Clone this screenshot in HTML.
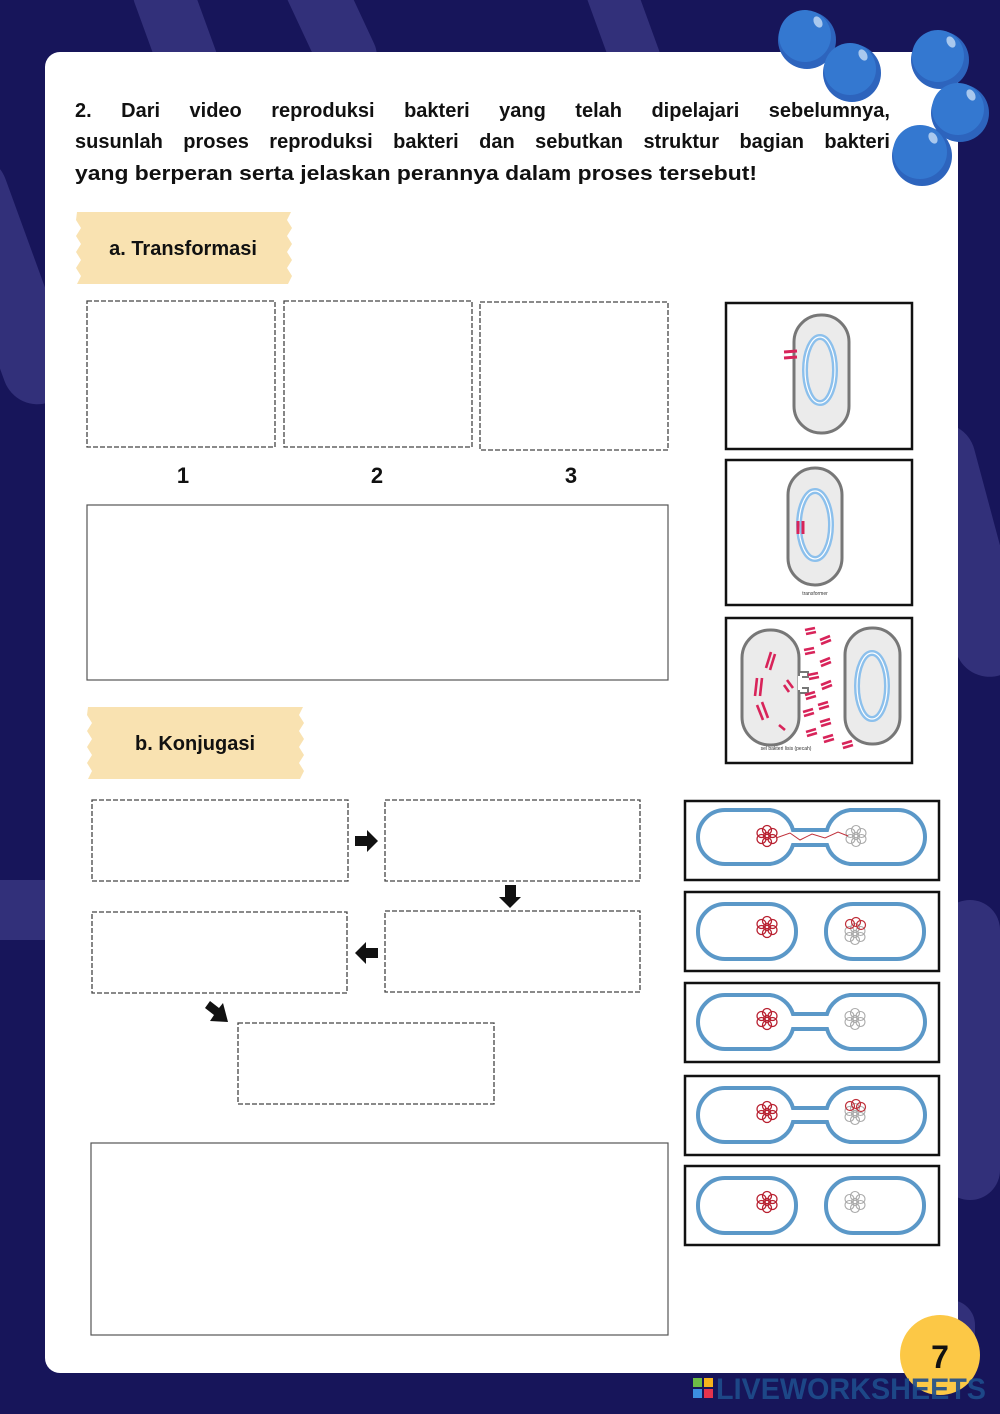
<!DOCTYPE html>
<html><head><meta charset="utf-8"><style>
html,body{margin:0;padding:0;background:#17155a;}
svg{display:block;}
text{font-family:"Liberation Sans",sans-serif;}
.q{position:absolute;left:75px;width:815px;font:bold 20px "Liberation Sans",sans-serif;color:#111;display:flex;justify-content:space-between;white-space:nowrap;}
</style></head><body>
<div style="position:relative;width:1000px;height:1414px;">
<svg width="1000" height="1414" viewBox="0 0 1000 1414" xmlns="http://www.w3.org/2000/svg" style="position:absolute;left:0;top:0">
<defs>
<g id="flower">
 <circle cx="0" cy="-6" r="4.5" fill="none"/><circle cx="5.5" cy="-3" r="4.5" fill="none"/><circle cx="5.5" cy="3" r="4.5" fill="none"/>
 <circle cx="0" cy="6" r="4.5" fill="none"/><circle cx="-5.5" cy="3" r="4.5" fill="none"/><circle cx="-5.5" cy="-3" r="4.5" fill="none"/><circle cx="0" cy="0" r="3.5" fill="none"/>
</g>
</defs>
<rect width="1000" height="1414" fill="#17155a"/>
<g fill="#3a3882" opacity="0.8">
 <rect x="150" y="-40" width="60" height="160" rx="30" transform="rotate(-20 180 40)"/>
 <rect x="300" y="-60" width="60" height="150" rx="30" transform="rotate(-25 330 20)"/>
 <rect x="600" y="-40" width="50" height="140" rx="25" transform="rotate(-20 625 30)"/>
 <rect x="-30" y="150" width="70" height="260" rx="35" transform="rotate(-20 5 280)"/>
 <rect x="-40" y="880" width="120" height="60" rx="30"/>
 <rect x="930" y="420" width="70" height="260" rx="35" transform="rotate(-15 965 550)"/>
 <rect x="940" y="900" width="60" height="300" rx="30"/>
 <rect x="925" y="1300" width="50" height="90" rx="25"/>
</g>
<rect x="45" y="52" width="913" height="1321" rx="15" fill="#ffffff"/>
<g>
 <circle cx="807" cy="40" r="29" fill="#2d64bd"/><circle cx="805" cy="36" r="26" fill="#3478d0"/><ellipse cx="818" cy="22" rx="4" ry="6" fill="#a9c8ee" transform="rotate(-30 818 22)"/>
 <circle cx="852" cy="73" r="29" fill="#2d64bd"/><circle cx="850" cy="69" r="26" fill="#3478d0"/><ellipse cx="863" cy="55" rx="4" ry="6" fill="#a9c8ee" transform="rotate(-30 863 55)"/>
 <circle cx="940" cy="60" r="29" fill="#2d64bd"/><circle cx="938" cy="56" r="26" fill="#3478d0"/><ellipse cx="951" cy="42" rx="4" ry="6" fill="#a9c8ee" transform="rotate(-30 951 42)"/>
 <circle cx="960" cy="113" r="29" fill="#2d64bd"/><circle cx="958" cy="109" r="26" fill="#3478d0"/><ellipse cx="971" cy="95" rx="4" ry="6" fill="#a9c8ee" transform="rotate(-30 971 95)"/>
 <circle cx="922" cy="156" r="30" fill="#2d64bd"/><circle cx="920" cy="152" r="27" fill="#3478d0"/><ellipse cx="933" cy="138" rx="4" ry="6" fill="#a9c8ee" transform="rotate(-30 933 138)"/>
</g>
<text x="75" y="180" font-size="20" font-weight="bold" fill="#111" textLength="682" lengthAdjust="spacingAndGlyphs">yang berperan serta jelaskan perannya dalam proses tersebut!</text>
<polygon fill="#f9e2b1" points="77,212 291,212 287,220 292,228 287,236 292,244 287,252 292,260 287,268 292,276 288,284 77,284 81,276 76,268 81,260 76,252 81,244 76,236 81,228 76,220"/>
<text x="183" y="255" font-size="20" font-weight="bold" text-anchor="middle" fill="#111">a. Transformasi</text>
<polygon fill="#f9e2b1" points="88,707 303,707 299,715 304,723 299,731 304,739 299,747 304,755 299,763 304,771 300,779 88,779 92,771 87,763 92,755 87,747 92,739 87,731 92,723 87,715"/>
<text x="195" y="750" font-size="20" font-weight="bold" text-anchor="middle" fill="#111">b. Konjugasi</text>
<g fill="none" stroke="#444" stroke-width="1.3" stroke-dasharray="5 2">
 <rect x="87" y="301" width="188" height="146"/>
 <rect x="284" y="301" width="188" height="146"/>
 <rect x="480" y="302" width="188" height="148"/>
</g>
<g font-size="22" font-weight="bold" text-anchor="middle" fill="#111">
 <text x="183" y="483">1</text><text x="377" y="483">2</text><text x="571" y="483">3</text>
</g>
<rect x="87" y="505" width="581" height="175" fill="none" stroke="#555" stroke-width="1.2"/>
<g stroke="#111" stroke-width="2.5" fill="#fff">
 <rect x="726" y="303" width="186" height="146"/>
 <rect x="726" y="460" width="186" height="145"/>
 <rect x="726" y="618" width="186" height="145"/>
</g>
<rect x="794" y="315" width="55" height="118" rx="27" fill="#ebebeb" stroke="#777" stroke-width="3"/>
<ellipse cx="820" cy="370" rx="15" ry="33" fill="none" stroke="#8cc0ec" stroke-width="6"/>
<ellipse cx="820" cy="370" rx="15" ry="33" fill="none" stroke="#fff" stroke-width="1.2"/>
<g stroke="#d8245a" stroke-width="3"><line x1="784" y1="352" x2="797" y2="351"/><line x1="784" y1="358" x2="797" y2="357"/></g>
<rect x="788" y="468" width="54" height="117" rx="27" fill="#ebebeb" stroke="#777" stroke-width="3"/>
<ellipse cx="815" cy="525" rx="16" ry="34" fill="none" stroke="#8cc0ec" stroke-width="6"/>
<ellipse cx="815" cy="525" rx="16" ry="34" fill="none" stroke="#fff" stroke-width="1.2"/>
<g stroke="#d8245a" stroke-width="3"><line x1="798" y1="521" x2="798" y2="534"/><line x1="803" y1="521" x2="803" y2="534"/></g>
<text x="815" y="595" font-size="5" text-anchor="middle" fill="#333">transformer</text>
<rect x="742" y="630" width="57" height="115" rx="28" fill="#ebebeb" stroke="#777" stroke-width="3"/>
<path d="M800,672 L808,672 L808,677 L800,677 M800,688 L808,688 L808,693 L800,693" fill="#fff" stroke="#777" stroke-width="2"/>
<rect x="798" y="676" width="4" height="14" fill="#fff"/>
<rect x="845" y="628" width="55" height="116" rx="27" fill="#ebebeb" stroke="#777" stroke-width="3"/>
<ellipse cx="872" cy="686" rx="15" ry="33" fill="none" stroke="#8cc0ec" stroke-width="6"/>
<ellipse cx="872" cy="686" rx="15" ry="33" fill="none" stroke="#fff" stroke-width="1.2"/>
<g stroke="#d8245a" stroke-width="2.6" stroke-linecap="butt" fill="none">
 <path d="M775,654 L770,670 M771,652 L766,668 M762,678 L760,696 M757,678 L755,696 M762,702 L768,718 M757,705 L763,720 M779,725 L785,730 M787,680 L793,688 M784,685 L789,692"/>
 <path d="M805,630 L815,628 M806,634 L816,632 M820,640 L830,636 M821,644 L831,640 M804,650 L814,648 M805,654 L815,652 M820,662 L830,658 M821,666 L831,662 M808,675 L818,673 M809,679 L819,677 M821,685 L831,681 M822,689 L832,685 M805,695 L815,692 M806,699 L816,696 M818,705 L828,702 M819,709 L829,706 M803,712 L813,709 M804,716 L814,713 M820,722 L830,719 M821,726 L831,723 M806,732 L816,729 M807,736 L817,733 M823,738 L833,735 M824,742 L834,739 M842,744 L852,741 M843,748 L853,745"/>
</g>
<text x="786" y="750" font-size="5" text-anchor="middle" fill="#333">sel bakteri lisis (pecah)</text>
<g fill="none" stroke="#444" stroke-width="1.3" stroke-dasharray="5 2">
 <rect x="92" y="800" width="256" height="81"/>
 <rect x="385" y="800" width="255" height="81"/>
 <rect x="92" y="912" width="255" height="81"/>
 <rect x="385" y="911" width="255" height="81"/>
 <rect x="238" y="1023" width="256" height="81"/>
</g>
<g fill="#111">
 <polygon points="355,836 367,836 367,830 378,841 367,852 367,846 355,846"/>
 <polygon points="505,885 516,885 516,897 521,897 510,908 499,897 505,897"/>
 <polygon points="378,948 366,948 366,942 355,953 366,964 366,958 378,958"/>
 <polygon points="210,1001 219,1008 223,1003 228,1022 210,1021 214,1015 205,1008"/>
</g>
<rect x="91" y="1143" width="577" height="192" fill="none" stroke="#555" stroke-width="1.2"/>
<g stroke="#111" stroke-width="2.5" fill="#fff">
 <rect x="685" y="801" width="254" height="79"/>
 <rect x="685" y="892" width="254" height="79"/>
 <rect x="685" y="983" width="254" height="79"/>
 <rect x="685" y="1076" width="254" height="79"/>
 <rect x="685" y="1166" width="254" height="79"/>
</g>
<g fill="none" stroke="#5b98c8" stroke-width="4">
 <path d="M793,830 A27,27 0 0 0 770,810 L725,810 A27,27 0 0 0 725,864 L770,864 A27,27 0 0 0 793,845 L827,845 A27,27 0 0 0 850,864 L898,864 A27,27 0 0 0 898,810 L850,810 A27,27 0 0 0 827,830 Z"/>
 <rect x="698" y="904" width="98" height="55" rx="27"/>
 <rect x="826" y="904" width="98" height="55" rx="27"/>
 <path d="M793,1014 A27,27 0 0 0 770,995 L725,995 A27,27 0 0 0 725,1049 L770,1049 A27,27 0 0 0 793,1029 L827,1029 A27,27 0 0 0 850,1049 L898,1049 A27,27 0 0 0 898,995 L850,995 A27,27 0 0 0 827,1014 Z"/>
 <path d="M793,1108 A27,27 0 0 0 770,1088 L725,1088 A27,27 0 0 0 725,1142 L770,1142 A27,27 0 0 0 793,1122 L827,1122 A27,27 0 0 0 850,1142 L898,1142 A27,27 0 0 0 898,1088 L850,1088 A27,27 0 0 0 827,1108 Z"/>
 <rect x="698" y="1178" width="98" height="55" rx="27"/>
 <rect x="826" y="1178" width="98" height="55" rx="27"/>
</g>
<g stroke="#b82030" stroke-width="1.3">
 <use href="#flower" x="767" y="836"/><use href="#flower" x="767" y="927"/><use href="#flower" x="767" y="1019"/><use href="#flower" x="767" y="1112"/><use href="#flower" x="767" y="1202"/>
</g>
<g stroke="#aaa" stroke-width="1.1">
 <use href="#flower" x="856" y="836"/><use href="#flower" x="855" y="934"/><use href="#flower" x="855" y="1019"/><use href="#flower" x="855" y="1114"/><use href="#flower" x="855" y="1202"/>
</g>
<path d="M776,838 L790,833 L800,840 L812,834 L825,838 L838,832 L848,836" fill="none" stroke="#c0303a" stroke-width="1"/>
<g stroke="#c0303a" stroke-width="1.2" fill="none"><circle cx="850" cy="924" r="4.5"/><circle cx="856" cy="922" r="4.5"/><circle cx="861" cy="925" r="4.5"/><circle cx="850" cy="1106" r="4.5"/><circle cx="856" cy="1104" r="4.5"/><circle cx="861" cy="1107" r="4.5"/></g>
<circle cx="940" cy="1355" r="40" fill="#fcc846"/>
<text x="940" y="1368" font-size="32" font-weight="bold" text-anchor="middle" fill="#111">7</text>
<rect x="693" y="1378" width="9" height="9" fill="#6dbb45"/><rect x="704" y="1378" width="9" height="9" fill="#f6b21b"/>
<rect x="693" y="1389" width="9" height="9" fill="#3b8ee0"/><rect x="704" y="1389" width="9" height="9" fill="#e5334d"/>
<text x="716" y="1399" font-size="30" font-weight="bold" fill="#1e4d8c" opacity="0.9" textLength="270" lengthAdjust="spacingAndGlyphs">LIVEWORKSHEETS</text>
</svg>
<div class="q" style="top:100px"><span>2.</span><span>Dari</span><span>video</span><span>reproduksi</span><span>bakteri</span><span>yang</span><span>telah</span><span>dipelajari</span><span>sebelumnya,</span></div>
<div class="q" style="top:131px"><span>susunlah</span><span>proses</span><span>reproduksi</span><span>bakteri</span><span>dan</span><span>sebutkan</span><span>struktur</span><span>bagian</span><span>bakteri</span></div>
</div>
</body></html>
